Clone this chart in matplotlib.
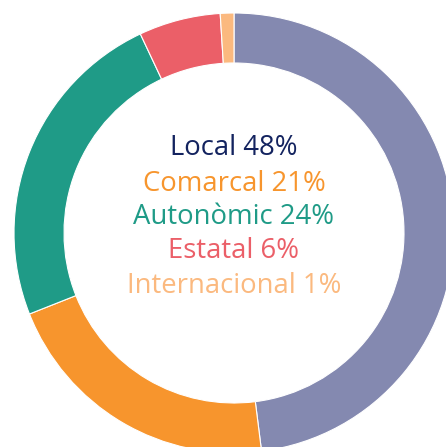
import matplotlib.pyplot as plt

labels = ['Local', 'Comarcal', 'Autonòmic', 'Estatal', 'Internacional']
shares = [48, 21, 24, 6, 1]
slice_colors = ['#8489b0', '#f7952d', '#1f9b87', '#eb5f68', '#fbb97f']
text_colors = ['#13235f', '#f7952d', '#1f9b87', '#eb5f68', '#fbb97f']

fig = plt.figure(figsize=(4.46, 4.47), dpi=100)
ax = fig.add_axes([0, 0, 1, 1])

# donut, starting at 12 o'clock going clockwise
ax.pie(shares, colors=slice_colors, startangle=90, counterclock=False,
       radius=220, wedgeprops=dict(width=50, edgecolor='white', linewidth=0.8))

# keep the same crop as the original (right and bottom edge cut off)
ax.set_xlim(-234, 212)
ax.set_ylim(-214, 233)
ax.set_aspect('equal')
ax.axis('off')

y_pos = [85, 49, 16, -18, -53]
for lab, val, col, y in zip(labels, shares, text_colors, y_pos):
    ax.text(0, y, f'{lab} {val}%', color=col, ha='center', va='center',
            fontsize=19.8, family='Open Sans')

fig.savefig('out.png', dpi=100)
